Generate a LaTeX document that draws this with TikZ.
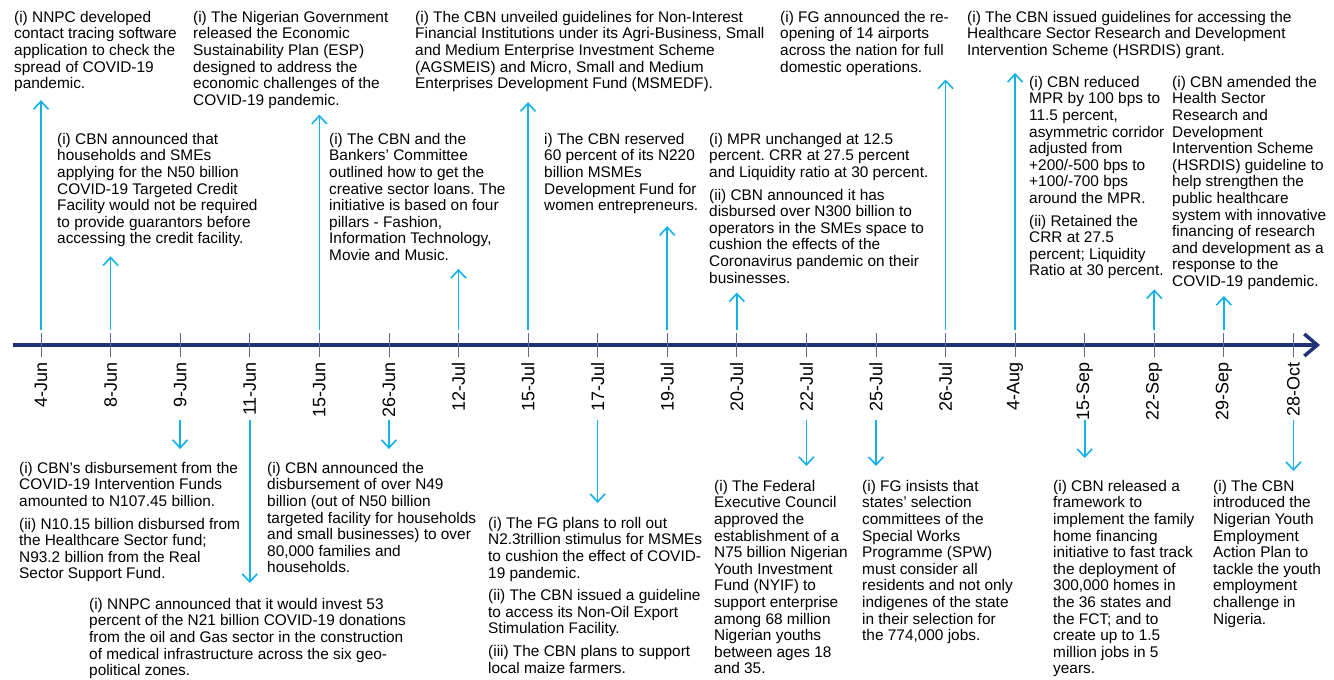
\documentclass[tikz,border=0pt]{standalone}
\usepackage{fontspec}
\setmainfont{Liberation Sans}
\usetikzlibrary{arrows.meta}
\frenchspacing
\definecolor{axisblue}{RGB}{31,50,120}
\definecolor{tickblue}{RGB}{95,105,155}
\definecolor{linkblue}{RGB}{20,176,232}
\tikzset{
  event/.style={anchor=north west, inner sep=0pt, align=left, font=\fontsize{15.4}{16.6}\selectfont},
  date/.style={rotate=90, anchor=east, inner sep=0pt, font=\fontsize{18}{18}\selectfont},
  link/.style={linkblue, line width=1.6pt, -{Straight Barb[length=8pt,width=15pt]}},
}

\begin{document}
\begin{tikzpicture}[x=1pt,y=-1pt]
\useasboundingbox (0,0) rectangle (1334,680);
% time axis
\coordinate (axstart) at (13,345);
\coordinate (axend) at (1320,345);
\draw[axisblue, line width=3.5pt, -{Straight Barb[length=13pt,width=22pt]}] (axstart) -- (axend);
\foreach \d [count=\i] in {4-Jun,8-Jun,9-Jun,11-Jun,15-Jun,26-Jun,12-Jul,15-Jul,17-Jul,19-Jul,20-Jul,22-Jul,25-Jul,26-Jul,4-Aug,15-Sep,22-Sep,29-Sep,28-Oct} {
  \coordinate (t\i) at ({41+69.58*(\i-1)},345);
  \draw[tickblue, line width=0.8pt] ([yshift=12pt]t\i) -- ([yshift=-12pt]t\i);
  \node[date] (d\i) at ([yshift=-17pt]t\i) {\d};
}

% events above the axis
\node[event] (nnpcapp) at (14,11) {(i) NNPC developed\\contact tracing software\\application to check the\\spread of COVID-19\\pandemic.};
\node[event] (esp) at (193,11) {(i) The Nigerian Government\\released the Economic\\Sustainability Plan (ESP)\\designed to address the\\economic challenges of the\\COVID-19 pandemic.};
\node[event] (nifi) at (415,11) {(i) The CBN unveiled guidelines for Non-Interest\\Financial Institutions under its Agri-Business, Small\\and Medium Enterprise Investment Scheme\\(AGSMEIS) and Micro, Small and Medium\\Enterprises Development Fund (MSMEDF).};
\node[event] (airports) at (780,11) {(i) FG announced the re-\\opening of 14 airports\\across the nation for full\\domestic operations.};
\node[event] (hsrdis) at (967,11) {(i) The CBN issued guidelines for accessing the\\Healthcare Sector Research and Development\\Intervention Scheme (HSRDIS) grant.};
\node[event] (credit) at (57,133) {(i) CBN announced that\\households and SMEs\\applying for the N50 billion\\COVID-19 Targeted Credit\\Facility would not be required\\to provide guarantors before\\accessing the credit facility.};
\node[event] (creative) at (329,133) {(i) The CBN and the\\Bankers’ Committee\\outlined how to get the\\creative sector loans. The\\initiative is based on four\\pillars - Fashion,\\Information Technology,\\Movie and Music.};
\node[event] (msmedf) at (544,133) {i) The CBN reserved\\60 percent of its N220\\billion MSMEs\\Development Fund for\\women entrepreneurs.};
\node[event] (mpr) at (709,133) {(i) MPR unchanged at 12.5\\percent. CRR at 27.5 percent\\and Liquidity ratio at 30 percent.\\[6pt](ii) CBN announced it has\\disbursed over N300 billion to\\operators in the SMEs space to\\cushion the effects of the\\Coronavirus pandemic on their\\businesses.};
\node[event] (mprcut) at (1029,76) {(i) CBN reduced\\MPR by 100 bps to\\11.5 percent,\\asymmetric corridor\\adjusted from\\+200/-500 bps to\\+100/-700 bps\\around the MPR.\\[6pt](ii) Retained the\\CRR at 27.5\\percent; Liquidity\\Ratio at 30 percent.};
\node[event] (hsamend) at (1172,76) {(i) CBN amended the\\Health Sector\\Research and\\Development\\Intervention Scheme\\(HSRDIS) guideline to\\help strengthen the\\public healthcare\\system with innovative\\financing of research\\and development as a\\response to the\\COVID-19 pandemic.};

% events below the axis
\node[event] (disb) at (19,462) {(i) CBN’s disbursement from the\\COVID-19 Intervention Funds\\amounted to N107.45 billion.\\[6pt](ii) N10.15 billion disbursed from\\the Healthcare Sector fund;\\N93.2 billion from the Real\\Sector Support Fund.};
\node[event] (n49) at (267,462) {(i) CBN announced the\\disbursement of over N49\\billion (out of N50 billion\\targeted facility for households\\and small businesses) to over\\80,000 families and\\households.};
\node[event] (donations) at (89,598) {(i) NNPC announced that it would invest 53\\percent of the N21 billion COVID-19 donations\\from the oil and Gas sector in the construction\\of medical infrastructure across the six geo-\\political zones.};
\node[event] (stimulus) at (488,517) {(i) The FG plans to roll out\\N2.3trillion stimulus for MSMEs\\to cushion the effect of COVID-\\19 pandemic.\\[6pt](ii) The CBN issued a guideline\\to access its Non-Oil Export\\Stimulation Facility.\\[6pt](iii) The CBN plans to support\\local maize farmers.};
\node[event] (nyif) at (714,480) {(i) The Federal\\Executive Council\\approved the\\establishment of a\\N75 billion Nigerian\\Youth Investment\\Fund (NYIF) to\\support enterprise\\among 68 million\\Nigerian youths\\between ages 18\\and 35.};
\node[event] (spw) at (862,480) {(i) FG insists that\\states’ selection\\committees of the\\Special Works\\Programme (SPW)\\must consider all\\residents and not only\\indigenes of the state\\in their selection for\\the 774,000 jobs.};
\node[event] (homes) at (1053,480) {(i) CBN released a\\framework to\\implement the family\\home financing\\initiative to fast track\\the deployment of\\300,000 homes in\\the 36 states and\\the FCT; and to\\create up to 1.5\\million jobs in 5\\years.};
\node[event] (nyeap) at (1213,480) {(i) The CBN\\introduced the\\Nigerian Youth\\Employment\\Action Plan to\\tackle the youth\\employment\\challenge in\\Nigeria.};

% connectors
\foreach \t/\b/\s in {1/nnpcapp/8pt, 2/credit/9pt, 5/esp/6pt, 7/creative/8pt, 8/nifi/10pt, 10/msmedf/12pt, 11/mpr/9pt, 14/airports/4pt, 15/hsrdis/14pt, 17/mprcut/10pt, 18/hsamend/6pt}
  \draw[link, shorten >=\s] ([yshift=15pt]t\t) -- (t\t |- \b.south);
\foreach \t/\b/\s in {3/disb/13pt, 4/donations/15pt, 6/n49/13pt, 9/stimulus/14pt, 12/nyif/14pt, 13/spw/14pt, 16/homes/22pt, 19/nyeap/9pt}
  \draw[link, shorten >=\s] ([yshift=-75pt]t\t) -- (t\t |- \b.north);
\end{tikzpicture}
\end{document}
